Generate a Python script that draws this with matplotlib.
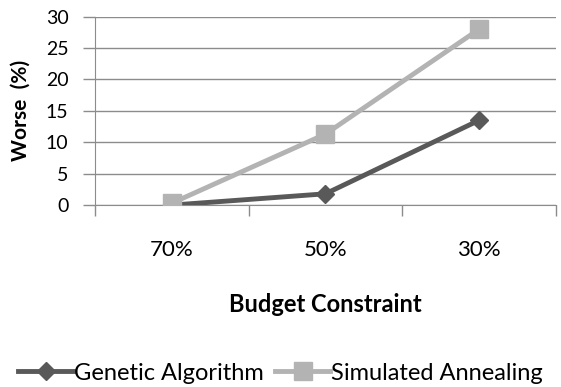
import matplotlib
matplotlib.use("Agg")
import matplotlib.pyplot as plt

# values
budgets = ["70%", "50%", "30%"]
genetic = [0.0, 1.8, 13.5]
annealing = [0.3, 11.3, 28.0]
yticks = [0, 5, 10, 15, 20, 25, 30]

plt.rcParams['font.family'] = ['Lato', 'DejaVu Sans']

fig = plt.figure(figsize=(5.61, 3.87), dpi=100)
ax = fig.add_axes([0.169, 0.470, 0.822, 0.487])

grid_c = '#8c8c8c'
x = range(len(budgets))
ax.plot(x, genetic, color='#595959', lw=3.5, marker='D', markersize=9.5,
        label='Genetic Algorithm', zorder=3)
ax.plot(x, annealing, color='#b3b3b3', lw=3.5, marker='s', markersize=13.5,
        label='Simulated Annealing', zorder=3)

ax.set_xlim(-0.5, len(budgets) - 0.5)
ax.set_ylim(0, 30)
ax.set_yticks(yticks)
ax.set_xticks([-0.5, 0.5, 1.5, 2.5])
ax.set_xticklabels([])
ax.set_xticks(list(x), minor=True)
ax.set_xticklabels(budgets, minor=True)
ax.tick_params(axis='x', which='major', length=8, color=grid_c, width=1)
ax.tick_params(axis='x', which='minor', length=0, pad=25, labelsize=16)
ax.tick_params(axis='y', length=9, color=grid_c, width=1, pad=10, labelsize=14)

ax.grid(axis='y', color=grid_c, lw=1)
ax.set_axisbelow(True)
for s in ['top', 'right']:
    ax.spines[s].set_visible(False)
ax.spines['bottom'].set_color(grid_c)
ax.spines['left'].set_color(grid_c)

ax.set_ylabel('Worse  (%)', fontsize=15, fontweight='bold')
ax.yaxis.set_label_coords(-0.14, 0.5)
ax.set_xlabel('Budget Constraint', fontsize=17, fontweight='bold', labelpad=24)

fig.legend(loc='center', bbox_to_anchor=(0.5, 1 - 373 / 387), ncol=2, frameon=False,
           fontsize=17, handlelength=2.3, handletextpad=0.05, columnspacing=0.5)

fig.savefig('out.png', dpi=100)
